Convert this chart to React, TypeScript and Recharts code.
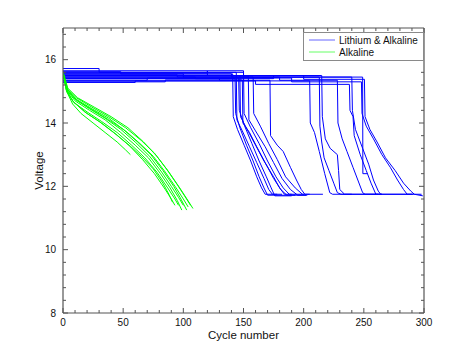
import { LineChart, Line, XAxis, YAxis } from 'recharts';

type Pt = [number, number];

const xTicks = [0, 10, 20, 30, 40, 50, 60, 70, 80, 90, 100, 110, 120, 130, 140, 150, 160, 170, 180, 190, 200, 210, 220, 230, 240, 250, 260, 270, 280, 290, 300];
const xLabels = [0, 50, 100, 150, 200, 250, 300];
const yTicks = [8, 8.4, 8.8, 9.2, 9.6, 10, 10.4, 10.8, 11.2, 11.6, 12, 12.4, 12.8, 13.2, 13.6, 14, 14.4, 14.8, 15.2, 15.6, 16, 16.4, 16.8];
const yLabels = [8, 10, 12, 14, 16];

// Lithium & Alkaline packs: flat plateau, sudden drop, then tail-off to ~11.7 V
const blueRuns: Pt[][] = [
  [[0, 15.62], [48, 15.62], [48, 15.55], [141, 15.55], [141.5, 14.2], [145, 13.8], [150.5, 13.3], [156, 12.8], [161, 12.3], [165, 11.95], [168, 11.75], [178, 11.75]],
  [[0, 15.45], [110, 15.45], [110, 15.4], [143, 15.4], [143.5, 14.3], [147, 13.85], [152.5, 13.3], [158, 12.8], [163, 12.3], [167, 11.95], [170, 11.72], [202, 11.72]],
  [[0, 15.72], [30, 15.72], [30, 15.6], [144, 15.6], [144.5, 14.1], [149, 13.75], [155, 13.25], [161, 12.75], [167, 12.25], [171, 11.9], [174, 11.75], [182, 11.75]],
  [[0, 15.35], [70, 15.35], [70, 15.42], [146, 15.42], [146.5, 14.4], [151, 13.9], [157, 13.35], [163, 12.8], [169, 12.3], [173, 11.95], [176, 11.7], [190, 11.7]],
  [[0, 15.5], [147, 15.5], [147.5, 14.2], [153, 13.8], [160, 13.3], [167, 12.8], [175, 12.3], [180, 11.95], [184, 11.75], [190, 11.75]],
  [[0, 15.3], [85, 15.3], [85, 15.36], [149, 15.36], [149.5, 14.0], [155, 13.7], [161, 13.25], [168, 12.75], [175, 12.25], [181, 11.9], [186, 11.72], [193, 11.72]],
  [[0, 15.58], [120, 15.58], [120, 15.65], [150, 15.65], [150.5, 14.3], [156, 13.85], [163, 13.35], [170, 12.8], [177, 12.3], [183, 11.95], [188, 11.75], [200, 11.75]],
  [[0, 15.48], [154, 15.48], [154.5, 14.1], [160, 13.75], [168, 13.25], [175, 12.75], [182, 12.25], [189, 11.9], [195, 11.72], [203, 11.72]],
  [[0, 15.52], [95, 15.52], [95, 15.45], [158, 15.45], [158.5, 14.3], [164, 13.9], [171, 13.35], [178, 12.85], [185, 12.3], [193, 11.95], [199, 11.75], [216, 11.75]],
  [[0, 15.4], [130, 15.4], [130, 15.35], [172, 15.35], [172.5, 13.6], [178, 13.3], [183, 13.1], [189, 12.6], [194, 12.2], [198, 11.9], [201, 11.75], [205, 11.75]],
  [[0, 15.28], [60, 15.28], [60, 15.33], [205, 15.33], [205.5, 14.0], [209, 13.7], [213, 13.1], [217.5, 12.4], [221.7, 11.8], [224, 11.75], [240, 11.75]],
  [[0, 15.55], [140, 15.55], [140, 15.45], [213, 15.45], [213.5, 13.9], [215, 13.4], [217, 12.9], [221, 12.5], [225, 12.1], [228, 11.8], [231, 11.75], [262, 11.75]],
  [[0, 15.4], [175, 15.4], [175, 15.5], [215, 15.5], [215.5, 14.2], [218, 13.5], [222, 13.2], [228, 13.0], [229, 12.5], [230, 11.9], [234, 11.75], [265, 11.75]],
  [[0, 15.55], [100, 15.55], [100, 15.45], [180, 15.45], [180, 15.35], [228, 15.35], [228.5, 14.0], [232, 13.5], [236, 13.1], [241, 12.6], [245, 12.2], [249, 11.8], [251, 11.75], [265, 11.75]],
  [[0, 15.33], [160, 15.33], [160, 15.22], [238, 15.22], [238.5, 14.4], [241, 14.2], [242, 13.6], [247, 13.0], [252, 12.5], [256, 12.1], [260, 11.75], [290, 11.75]],
  [[0, 15.6], [150, 15.6], [150, 15.45], [240, 15.45], [240.5, 14.4], [243, 13.8], [249, 13.2], [254, 12.7], [258, 12.2], [262, 11.85], [264, 11.75], [291, 11.75]],
  [[0, 15.42], [190, 15.42], [190, 15.3], [248, 15.3], [248.5, 14.3], [252, 13.9], [258, 13.5], [265, 13.0], [272, 12.6], [278, 12.2], [283, 11.9], [286, 11.75], [298, 11.75]],
  [[0, 15.65], [120, 15.65], [120, 15.5], [200, 15.5], [200, 15.38], [250.5, 15.38], [251, 14.2], [255, 13.8], [261, 13.4], [268, 12.9], [276, 12.5], [283, 12.1], [289, 11.85], [292, 11.75], [299, 11.7]],
  [[0, 15.45], [249, 15.45], [249.2, 12.4], [253, 12.4]],
];

// Alkaline-only packs: steady decline
const greenRuns: Pt[][] = [
  [[0, 15.6], [3, 15.0], [8, 14.6], [15, 14.3], [25, 14.0], [35, 13.7], [45, 13.4], [52, 13.15], [56, 13.0]],
  [[0, 15.6], [3, 15.05], [8, 14.7], [18, 14.35], [30, 14.05], [42, 13.7], [55, 13.3], [65, 12.95], [75, 12.55], [83, 12.1], [88, 11.75], [91, 11.5]],
  [[0, 15.55], [3, 15.0], [9, 14.65], [20, 14.35], [32, 14.05], [45, 13.7], [57, 13.3], [68, 12.9], [78, 12.45], [87, 11.95], [93, 11.6], [96, 11.4]],
  [[0, 15.6], [4, 15.0], [10, 14.7], [22, 14.4], [35, 14.1], [48, 13.7], [60, 13.3], [71, 12.9], [81, 12.4], [89, 11.95], [95, 11.55], [98.7, 11.25]],
  [[0, 15.6], [3, 15.1], [10, 14.75], [22, 14.45], [35, 14.15], [48, 13.8], [60, 13.4], [72, 12.95], [82, 12.45], [90, 12.0], [96, 11.65], [100, 11.4]],
  [[0, 15.6], [4, 15.05], [11, 14.75], [24, 14.45], [38, 14.15], [50, 13.8], [62, 13.4], [73, 13.0], [83, 12.5], [92, 12.0], [98, 11.6], [102.8, 11.25]],
  [[0, 15.55], [4, 15.0], [12, 14.7], [25, 14.4], [38, 14.1], [52, 13.75], [64, 13.35], [75, 12.95], [85, 12.45], [94, 11.95], [100, 11.6], [104, 11.35]],
  [[0, 15.6], [3, 15.1], [11, 14.8], [24, 14.5], [38, 14.2], [52, 13.85], [65, 13.45], [76, 13.05], [86, 12.55], [95, 12.05], [101, 11.7], [106, 11.4]],
  [[0, 15.6], [4, 15.1], [12, 14.8], [26, 14.5], [40, 14.2], [54, 13.85], [67, 13.4], [78, 12.95], [88, 12.45], [97, 11.95], [103, 11.6], [108, 11.3]],
  [[0, 15.6], [3, 15.0], [9, 14.65], [20, 14.3], [32, 14.0], [44, 13.65], [56, 13.25], [66, 12.85], [76, 12.4], [85, 11.9], [90, 11.6], [93, 11.4]],
];

const BLUE = '#0000ff';
const GREEN = '#00ff00';
const AXIS = '#555';
const FONT = '"Liberation Sans", Arial, Helvetica, sans-serif';

const toRows = (run: Pt[]) => run.map(([x, y]) => ({ x, y }));
const isMajorY = (v: number) => yLabels.some((m) => Math.abs(m - v) < 1e-6);

function BottomTick({ x, y, payload }: any) {
  const major = xLabels.includes(payload.value);
  return (
    <g>
      <line x1={x} x2={x} y1={y} y2={y - (major ? 5 : 3)} stroke={AXIS} />
      {major && (
        <text x={x} y={y + 12.5} textAnchor="middle" fontSize={10} fill="#111" fontFamily={FONT}>
          {payload.value}
        </text>
      )}
    </g>
  );
}

function TopTick({ x, y, payload }: any) {
  const major = xLabels.includes(payload.value);
  return <line x1={x} x2={x} y1={y} y2={y + (major ? 5 : 3)} stroke={AXIS} />;
}

function LeftTick({ x, y, payload }: any) {
  const major = isMajorY(payload.value);
  return (
    <g>
      <line x1={x} x2={x + (major ? 5 : 3)} y1={y} y2={y} stroke={AXIS} />
      {major && (
        <text x={x - 7} y={y + 3.6} textAnchor="end" fontSize={10} fill="#111" fontFamily={FONT}>
          {Math.round(payload.value)}
        </text>
      )}
    </g>
  );
}

function RightTick({ x, y, payload }: any) {
  const major = isMajorY(payload.value);
  return <line x1={x} x2={x - (major ? 5 : 3)} y1={y} y2={y} stroke={AXIS} />;
}

function XTitle({ viewBox }: any) {
  const vb = viewBox || { x: 55, y: 305, width: 361 };
  return (
    <text x={vb.x + vb.width / 2} y={vb.y + 26} textAnchor="middle" fontSize={11.5} fill="#111" fontFamily={FONT}>
      Cycle number
    </text>
  );
}

function YTitle({ viewBox }: any) {
  const vb = viewBox || { x: 0, y: 20, height: 285 };
  const cx = vb.x + 31;
  const cy = vb.y + vb.height / 2;
  return (
    <text
      x={cx}
      y={cy}
      transform={`rotate(-90, ${cx}, ${cy})`}
      textAnchor="middle"
      dominantBaseline="central"
      fontSize={11.5}
      fill="#111"
      fontFamily={FONT}
    >
      Voltage
    </text>
  );
}

export default function App() {
  return (
    <div style={{ position: 'relative', width: 454, height: 338 }}>
      <LineChart width={454} height={338} margin={{ top: 19, right: 30, bottom: 3, left: 0 }}>
        <XAxis
          xAxisId="b"
          type="number"
          dataKey="x"
          domain={[0, 300]}
          ticks={xTicks}
          interval={0}
          allowDataOverflow
          height={30}
          tickSize={0}
          tickMargin={0}
          tick={<BottomTick />}
          axisLine={{ stroke: AXIS, strokeWidth: 1.2 }}
          label={<XTitle />}
        />
        <XAxis
          xAxisId="t"
          orientation="top"
          type="number"
          dataKey="x"
          domain={[0, 300]}
          ticks={xTicks}
          interval={0}
          allowDataOverflow
          height={1}
          tickSize={0}
          tickMargin={0}
          tick={<TopTick />}
          axisLine={{ stroke: AXIS, strokeWidth: 1.2 }}
        />
        <YAxis
          yAxisId="l"
          type="number"
          domain={[8, 17]}
          ticks={yTicks}
          interval={0}
          allowDataOverflow
          width={55}
          tickSize={0}
          tickMargin={0}
          tick={<LeftTick />}
          axisLine={{ stroke: AXIS, strokeWidth: 1.2 }}
          label={<YTitle />}
        />
        <YAxis
          yAxisId="r"
          orientation="right"
          type="number"
          domain={[8, 17]}
          ticks={yTicks}
          interval={0}
          allowDataOverflow
          width={8}
          tickSize={0}
          tickMargin={0}
          tick={<RightTick />}
          axisLine={{ stroke: AXIS, strokeWidth: 1.2 }}
        />
        {blueRuns.map((run, i) => (
          <Line
            key={`b${i}`}
            xAxisId="b"
            yAxisId="l"
            data={toRows(run)}
            dataKey="y"
            type="linear"
            stroke={BLUE}
            strokeWidth={1}
            dot={false}
            activeDot={false}
            isAnimationActive={false}
          />
        ))}
        {greenRuns.map((run, i) => (
          <Line
            key={`g${i}`}
            xAxisId="b"
            yAxisId="l"
            data={toRows(run)}
            dataKey="y"
            type="linear"
            stroke={GREEN}
            strokeWidth={1}
            dot={false}
            activeDot={false}
            isAnimationActive={false}
          />
        ))}
      </LineChart>
      <div
        style={{
          position: 'absolute',
          left: 295,
          top: 24,
          width: 121,
          height: 29,
          boxSizing: 'border-box',
          border: '1px solid #8a8a8a',
          background: '#fff',
        }}
      >
        <svg width={119} height={27} style={{ display: 'block' }}>
          <line x1={5} x2={31} y1={7} y2={7} stroke={BLUE} strokeOpacity={0.6} />
          <text x={35} y={10.6} fontSize={10} fill="#111" fontFamily={FONT}>
            Lithium &amp; Alkaline
          </text>
          <line x1={5} x2={31} y1={19} y2={19} stroke={GREEN} strokeOpacity={0.6} />
          <text x={35} y={22.6} fontSize={10} fill="#111" fontFamily={FONT}>
            Alkaline
          </text>
        </svg>
      </div>
    </div>
  );
}
